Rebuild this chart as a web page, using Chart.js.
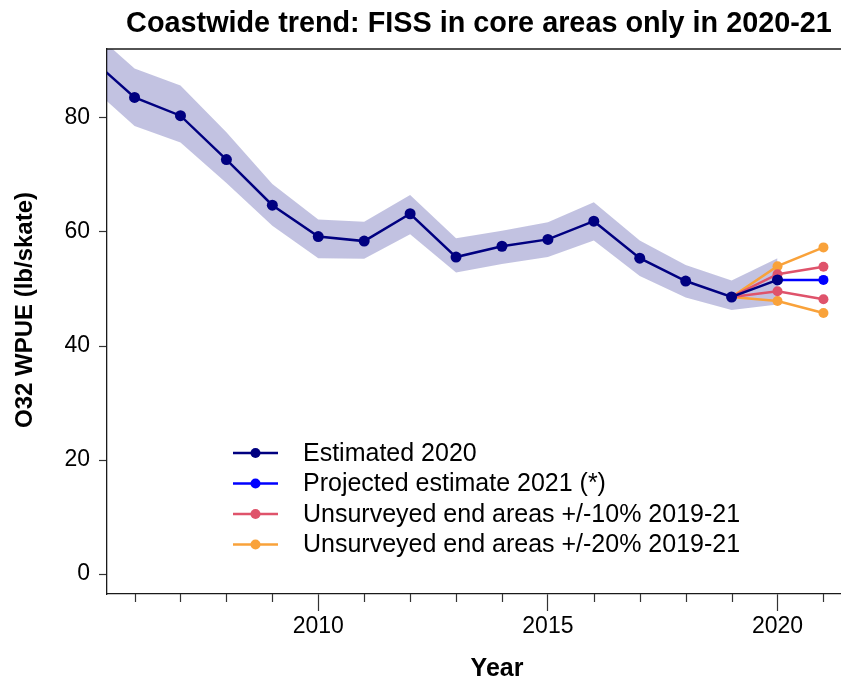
<!DOCTYPE html>
<html>
<head>
<meta charset="utf-8">
<script src="https://cdn.jsdelivr.net/npm/chart.js@4.4.1/dist/chart.umd.min.js"></script>
<style>
  html, body { margin: 0; padding: 0; background: #fff; overflow: hidden; }
  .viewport { width: 841px; height: 681px; overflow: hidden; }
  .chart-container { position: relative; width: 960px; height: 681px; }
</style>
</head>
<body>
<div class="viewport">
  <div class="chart-container">
    <canvas id="myChart" width="960" height="681"></canvas>
  </div>
</div>
<script>
// O32 WPUE coastwide index, survey years
const years = [2005, 2006, 2007, 2008, 2009, 2010, 2011, 2012, 2013, 2014, 2015, 2016, 2017, 2018, 2019, 2020];
const estimated = [90.8, 83.6, 80.4, 72.7, 64.7, 59.2, 58.4, 63.2, 55.6, 57.5, 58.7, 61.9, 55.4, 51.4, 48.6, 51.6];
const bandLower = [85.8, 78.6, 75.7, 68.6, 61.1, 55.4, 55.3, 59.6, 52.9, 54.4, 55.6, 58.5, 52.3, 48.5, 46.3, 47.3];
const bandUpper = [95.8, 88.7, 85.7, 77.5, 68.4, 62.2, 61.8, 66.5, 58.9, 60.2, 61.7, 65.2, 58.5, 54.2, 51.5, 55.4];

// 2021 projection
const projYears = [2020, 2021];
const projected = [51.6, 51.6];

// unsurveyed end-area scenarios
const scenYears = [2019, 2020, 2021];
const plus10Upper = [48.6, 52.6, 53.9];
const plus10Lower = [48.6, 49.6, 48.2];
const plus20Upper = [48.6, 54.0, 57.3];
const plus20Lower = [48.6, 47.9, 45.8];

const yTicks = [0, 20, 40, 60, 80];
const xTicks = [2010, 2015, 2020];
const legendLabels = [
  'Estimated 2020',
  'Projected estimate 2021 (*)',
  'Unsurveyed end areas +/-10% 2019-21',
  'Unsurveyed end areas +/-20% 2019-21',
];
const titleText = 'Coastwide trend: FISS in core areas only in 2020-21';

const NAVY = '#000080';
const BLUE = '#0000ff';
const PINK = '#df536b';
const ORANGE = '#f9a23a';
const BAND = 'rgba(0, 0, 128, 0.24)';
const FONT = '"Liberation Sans", Arial, sans-serif';

const toXY = (xs, ys) => xs.map((x, i) => ({ x, y: ys[i] }));

function lineSet(xs, ys, color, order, radius) {
  return {
    data: toXY(xs, ys),
    borderColor: color,
    backgroundColor: color,
    borderWidth: 2.5,
    pointRadius: xs.map(x => (x === 2019 && color !== NAVY ? 0 : radius)),
    pointBorderWidth: 0,
    pointBackgroundColor: color,
    fill: false,
    tension: 0,
    order: order,
    clip: 0,
  };
}

// title, frame, minor ticks, axis titles and legend
const extras = {
  id: 'extras',
  afterDraw(chart) {
    const { ctx, chartArea: a } = chart;
    const xs = chart.scales.x;
    ctx.save();

    ctx.fillStyle = '#000';
    ctx.font = 'bold 28.8px ' + FONT;
    ctx.textAlign = 'center';
    ctx.textBaseline = 'alphabetic';
    ctx.fillText(titleText, (a.left + a.right) / 2, 31.7);

    ctx.strokeStyle = '#1a1a1a';
    ctx.lineWidth = 1.3;
    ctx.beginPath();
    ctx.moveTo(a.left, a.top);
    ctx.lineTo(a.right, a.top);
    ctx.stroke();

    // short ticks for the unlabelled years
    ctx.strokeStyle = '#333';
    ctx.lineWidth = 1.2;
    for (let yr = 2006; yr <= 2021; yr++) {
      if (xTicks.includes(yr)) continue;
      const px = Math.round(xs.getPixelForValue(yr)) + 0.5;
      ctx.beginPath();
      ctx.moveTo(px, a.bottom);
      ctx.lineTo(px, a.bottom + 8);
      ctx.stroke();
    }

    ctx.font = 'bold 25px ' + FONT;
    ctx.fillText('Year', 497, 676);

    ctx.save();
    ctx.translate(25, 310);
    ctx.rotate(-Math.PI / 2);
    ctx.textBaseline = 'middle';
    ctx.font = 'bold 24px ' + FONT;
    ctx.fillText('O32 WPUE (lb/skate)', 0, 0);
    ctx.restore();

    const colors = [NAVY, BLUE, PINK, ORANGE];
    ctx.font = '25px ' + FONT;
    ctx.textAlign = 'left';
    ctx.textBaseline = 'middle';
    legendLabels.forEach((label, i) => {
      const y = 453 + i * 30.5;
      ctx.strokeStyle = colors[i];
      ctx.fillStyle = colors[i];
      ctx.lineWidth = 2.5;
      ctx.beginPath();
      ctx.moveTo(233, y);
      ctx.lineTo(278, y);
      ctx.stroke();
      ctx.beginPath();
      ctx.arc(255.5, y, 5, 0, Math.PI * 2);
      ctx.fill();
      ctx.fillStyle = '#000';
      ctx.fillText(label, 303, y + 1);
    });
    ctx.restore();
  },
};

const ctx = document.getElementById('myChart').getContext('2d');

new Chart(ctx, {
  type: 'line',
  data: {
    datasets: [
      lineSet(years, estimated, NAVY, 1, 5.5),
      lineSet(projYears, projected, BLUE, 2, 5),
      lineSet(scenYears, plus10Upper, PINK, 3, 5),
      lineSet(scenYears, plus10Lower, PINK, 3, 5),
      lineSet(scenYears, plus20Upper, ORANGE, 4, 5),
      lineSet(scenYears, plus20Lower, ORANGE, 4, 5),
      {
        data: toXY(years, bandUpper),
        borderWidth: 0,
        pointRadius: 0,
        backgroundColor: BAND,
        fill: '+1',
        order: 10,
        clip: 0,
      },
      {
        data: toXY(years, bandLower),
        borderWidth: 0,
        pointRadius: 0,
        backgroundColor: BAND,
        fill: false,
        order: 10,
        clip: 0,
      },
    ],
  },
  options: {
    responsive: false,
    animation: false,
    layout: { padding: { left: 0, right: 109, top: 49, bottom: 0 } },
    plugins: {
      legend: { display: false },
      tooltip: { enabled: false },
      title: { display: false },
    },
    scales: {
      x: {
        type: 'linear',
        min: 2005.4,
        max: 2021.6,
        afterBuildTicks: s => { s.ticks = xTicks.map(v => ({ value: v })); },
        afterFit: s => { s.height = 87; },
        grid: {
          drawOnChartArea: false,
          tickLength: 17,
          tickColor: '#333',
          tickWidth: 1.2,
        },
        border: { display: true, color: '#1a1a1a', width: 1.3 },
        ticks: {
          color: '#000',
          padding: 2,
          maxRotation: 0,
          font: { family: FONT, size: 23 },
          callback: v => String(v),
        },
      },
      y: {
        min: -3.5,
        max: 92.1,
        afterBuildTicks: s => { s.ticks = yTicks.map(v => ({ value: v })); },
        afterFit: s => { s.width = 107; },
        grid: {
          drawOnChartArea: false,
          tickLength: 8,
          tickColor: '#333',
          tickWidth: 1.2,
        },
        border: { display: true, color: '#1a1a1a', width: 1.3 },
        ticks: {
          color: '#000',
          padding: 9,
          font: { family: FONT, size: 23 },
        },
      },
    },
  },
  plugins: [extras],
});
</script>
</body>
</html>
